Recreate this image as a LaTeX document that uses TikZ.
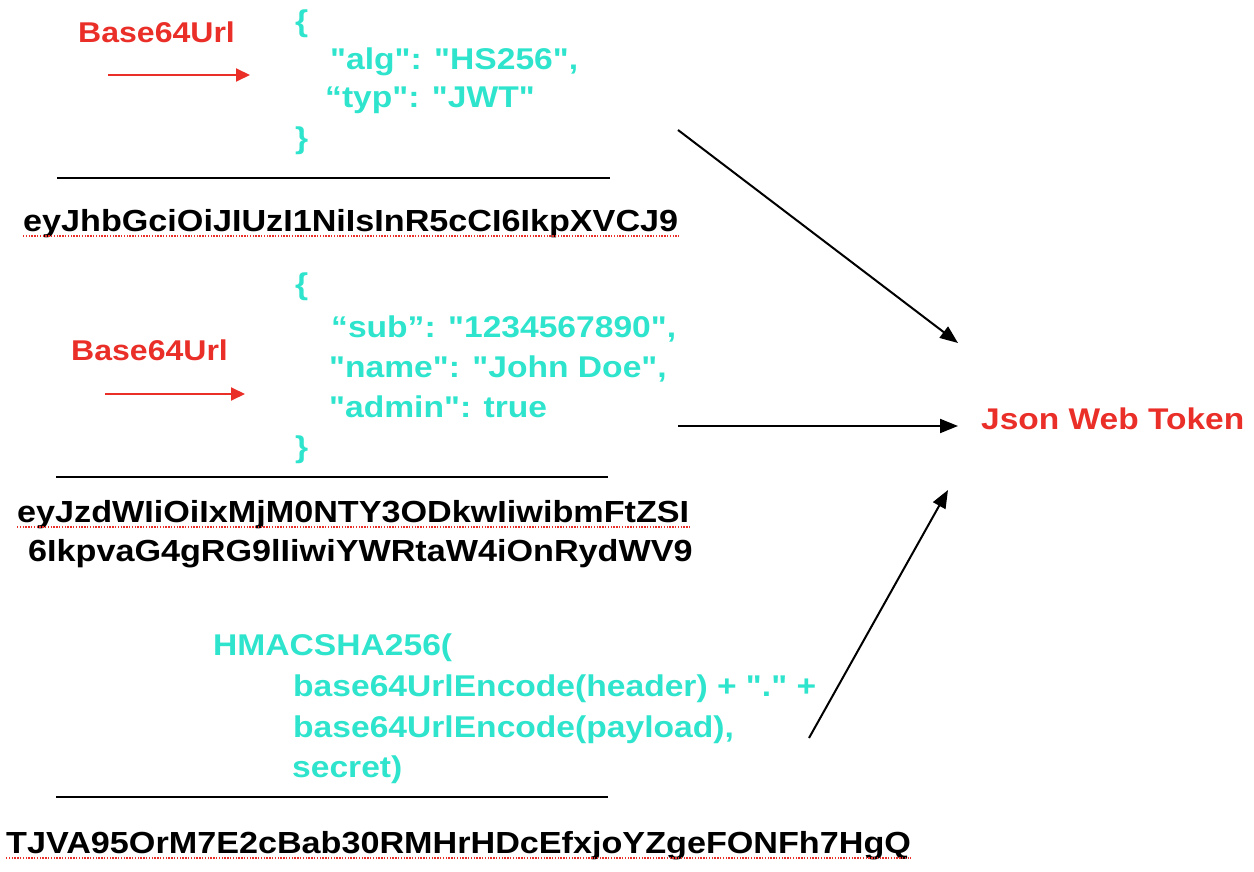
\documentclass[tikz,border=0pt]{standalone}
\usepackage{fontspec}
\setmainfont{Liberation Sans}[FakeStretch=1.12,Ligatures=TeXOff]
\usetikzlibrary{arrows.meta,calc}
\definecolor{jwtred}{RGB}{234,46,40}
\definecolor{jwtcyan}{RGB}{46,228,205}

\begin{document}
\begin{tikzpicture}[x=1pt,y=-1pt,
  txt/.style={anchor=base west,inner sep=0pt,font=\fontsize{30.5}{36}\selectfont\bfseries},
  code/.style={txt,text=jwtcyan,font=\fontsize{30}{36}\selectfont\bfseries},
  enc/.style={txt,text=black},
  lbl/.style={txt,text=jwtred,font=\fontsize{28.6}{34}\selectfont\bfseries},
  title/.style={txt,text=jwtred,font=\fontsize{29.9}{36}\selectfont\bfseries},
  rule/.style={line width=2.4pt,black},
  spell/.style={jwtred,line width=1.4pt,dash pattern=on 1.4pt off 1.4pt},
  redarrow/.style={jwtred,line width=2pt,-{Triangle[length=14pt,width=13pt]}},
  blkarrow/.style={black,line width=2pt,-{Triangle[length=18pt,width=14pt]}},
]
\useasboundingbox (0,0) rectangle (1254,872);

% ---- header ----
\node[lbl] (b64a) at (78,42.5) {Base64Url};
\coordinate (ra1s) at (108,75);
\coordinate (ra1e) at (250,75);
\draw[redarrow] (ra1s) -- (ra1e);
\node[code] (hopen) at (295,32) {\{};
\node[code] (halg) at (330,70) {"alg": "HS256",};
\node[code] (htyp) at (325,108) {“typ": "JWT"};
\node[code] (hclose) at (295,149) {\}};
\coordinate (r1s) at (57,178);
\coordinate (r1e) at (610,178);
\draw[rule] (r1s) -- (r1e);
\node[enc] (hdr) at (23,231) {eyJhbGciOiJIUzI1NiIsInR5cCI6IkpXVCJ9};
\draw[spell] ([yshift=-5pt]hdr.base west) -- ([yshift=-5pt]hdr.base east);

% ---- payload ----
\node[lbl] (b64b) at (71,360) {Base64Url};
\coordinate (ra2s) at (105,394);
\coordinate (ra2e) at (245,394);
\draw[redarrow] (ra2s) -- (ra2e);
\node[code] (popen) at (295,294) {\{};
\node[code] (psub) at (331,337) {“sub”: "1234567890",};
\node[code] (pname) at (329,377) {"name": "John Doe",};
\node[code] (padmin) at (329,417) {"admin": true};
\node[code] (pclose) at (295,457) {\}};
\coordinate (r2s) at (56,477);
\coordinate (r2e) at (608,477);
\draw[rule] (r2s) -- (r2e);
\node[enc] (pay1) at (17,522) {eyJzdWIiOiIxMjM0NTY3ODkwIiwibmFtZSI};
\draw[spell] ([yshift=-5pt]pay1.base west) -- ([yshift=-5pt]pay1.base east);
\node[enc] (pay2) at (28,561) {6IkpvaG4gRG9lIiwiYWRtaW4iOnRydWV9};

% ---- signature ----
\node[code] (sig1) at (213,655) {HMACSHA256(};
\node[code] (sig2) at (293,696) {base64UrlEncode(header) + "." +};
\node[code] (sig3) at (293,737) {base64UrlEncode(payload),};
\node[code] (sig4) at (292,777) {secret)};
\coordinate (r3s) at (56,797);
\coordinate (r3e) at (608,797);
\draw[rule] (r3s) -- (r3e);
\node[enc] (sig) at (6,853) {TJVA95OrM7E2cBab30RMHrHDcEfxjoYZgeFONFh7HgQ};
\draw[spell] ([yshift=-5pt]sig.base west) -- ([yshift=-5pt]sig.base east);

% ---- result ----
\node[title] (jwt) at (981,429) {Json Web Token};
\coordinate (a1s) at (678,130);
\coordinate (a1e) at (958,343);
\coordinate (a2s) at (678,426);
\coordinate (a2e) at (958,426);
\coordinate (a3s) at (809,738);
\coordinate (a3e) at (948,490);
\draw[blkarrow] (a1s) -- (a1e);
\draw[blkarrow] (a2s) -- (a2e);
\draw[blkarrow] (a3s) -- (a3e);
\end{tikzpicture}
\end{document}
